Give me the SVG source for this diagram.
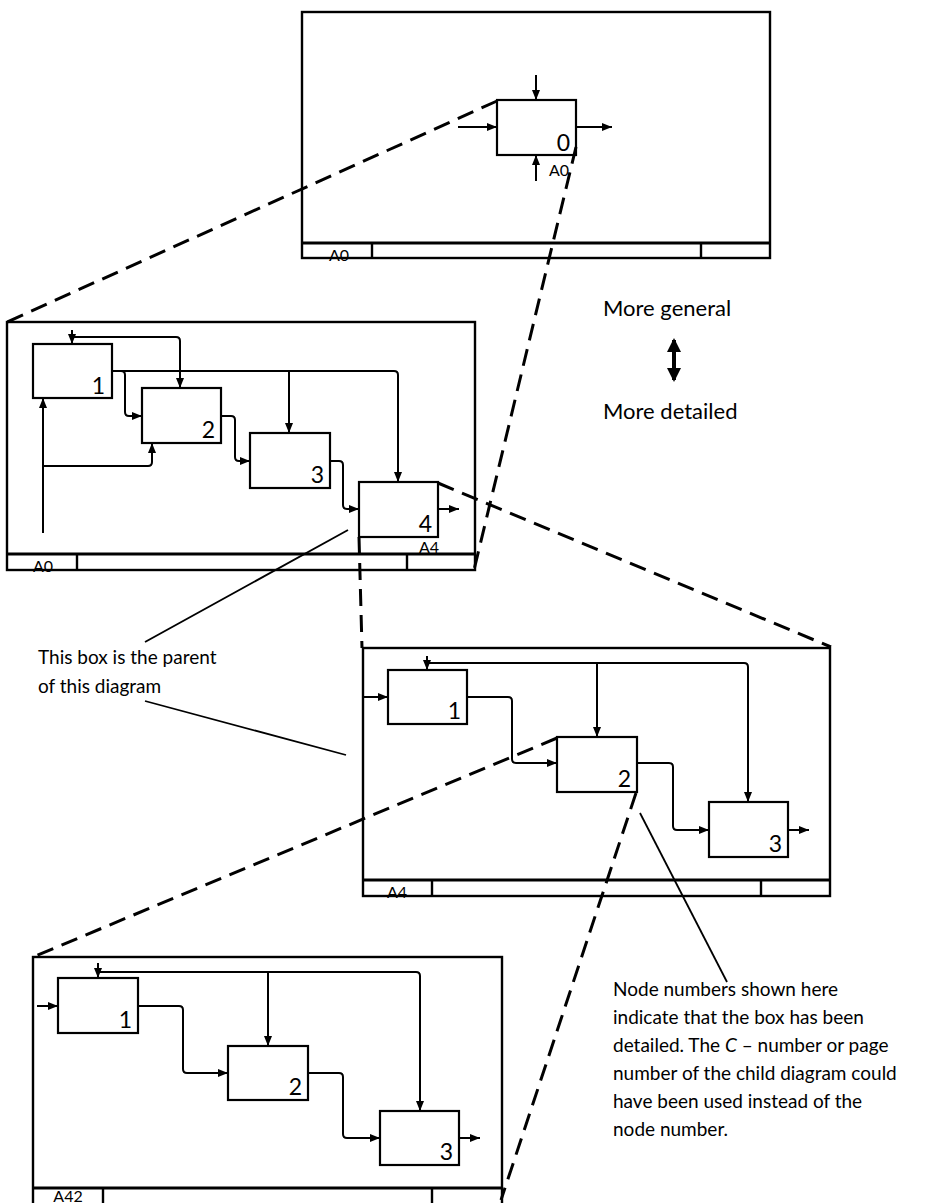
<svg xmlns="http://www.w3.org/2000/svg" width="925" height="1203" viewBox="0 0 925 1203">
<style>
.frame{fill:none;stroke:#000;stroke-width:2.4}
.bar{fill:none;stroke:#000;stroke-width:2.8}
.box{fill:#fff;stroke:#000;stroke-width:2.2}
.c{fill:none;stroke:#000;stroke-width:2;stroke-linejoin:round}
.dash{fill:none;stroke:#000;stroke-width:3;stroke-dasharray:17 9}
.note{fill:none;stroke:#000;stroke-width:1.8}
text{font-family:Lato,"Open Sans","Liberation Sans",sans-serif;fill:#000}
.num{font-size:23px;text-anchor:end}
.ref{font-size:16px}
.foot{font-size:16px;text-anchor:middle}
.lbl{font-size:19px}
.big{font-size:22px}
</style>
<defs>
<marker id="ah" viewBox="0 0 10 8" refX="10" refY="4" markerWidth="10" markerHeight="8" markerUnits="userSpaceOnUse" orient="auto"><path d="M0,0 L10,4 L0,8 z" fill="#000"/></marker>
<marker id="dh" viewBox="0 0 14 14" refX="12" refY="7" markerWidth="14" markerHeight="14" markerUnits="userSpaceOnUse" orient="auto-start-reverse"><path d="M0,0 L14,7 L0,14 z" fill="#000"/></marker>
</defs>

<g id="frame-top">
<rect class="frame" x="302" y="12" width="468" height="246"/>
<line class="bar" x1="302" y1="243" x2="770" y2="243"/>
<line class="frame" x1="372" y1="243" x2="372" y2="258"/>
<line class="frame" x1="701" y1="243" x2="701" y2="258"/>
<text class="foot" x="339" y="261">A0</text>
</g>
<g id="A0-box0">
<rect class="box" x="497" y="100" width="79" height="55"/>
<text class="num" x="570" y="151">0</text>
<text class="ref" x="569" y="176" text-anchor="end">A0</text>
</g>

<g id="frame-A0">
<rect class="frame" x="7" y="322" width="468" height="248"/>
<line class="bar" x1="7" y1="554" x2="475" y2="554"/>
<line class="frame" x1="77" y1="554" x2="77" y2="570"/>
<line class="frame" x1="407" y1="554" x2="407" y2="570"/>
<text class="foot" x="43" y="572">A0</text>
</g>
<g id="A0-box1"><rect class="box" x="33" y="344" width="79" height="54"/><text class="num" x="105" y="394">1</text></g>
<g id="A0-box2"><rect class="box" x="142" y="388" width="79" height="55"/><text class="num" x="215" y="438">2</text></g>
<g id="A0-box3"><rect class="box" x="250" y="433" width="80" height="55"/><text class="num" x="324" y="483">3</text></g>
<g id="A0-box4"><rect class="box" x="359" y="482" width="79" height="55"/><text class="num" x="432" y="532">4</text><text class="ref" x="439" y="553" text-anchor="end">A4</text></g>

<g id="frame-A4">
<rect class="frame" x="363" y="648" width="467" height="248"/>
<line class="bar" x1="363" y1="880" x2="830" y2="880"/>
<line class="frame" x1="432" y1="880" x2="432" y2="896"/>
<line class="frame" x1="761" y1="880" x2="761" y2="896"/>
<text class="foot" x="397" y="898">A4</text>
</g>
<g id="A4-box1"><rect class="box" x="388" y="670" width="79" height="54"/><text class="num" x="461" y="719">1</text></g>
<g id="A4-box2"><rect class="box" x="557" y="737" width="80" height="55"/><text class="num" x="631" y="787">2</text></g>
<g id="A4-box3"><rect class="box" x="709" y="802" width="79" height="55"/><text class="num" x="782" y="852">3</text></g>

<g id="frame-A42">
<rect class="frame" x="33" y="957" width="469" height="260"/>
<line class="bar" x1="33" y1="1188" x2="502" y2="1188"/>
<line class="frame" x1="103" y1="1188" x2="103" y2="1210"/>
<line class="frame" x1="432" y1="1188" x2="432" y2="1210"/>
<text class="foot" x="68" y="1202">A42</text>
</g>
<g id="A42-box1"><rect class="box" x="58" y="978" width="80" height="55"/><text class="num" x="132" y="1028">1</text></g>
<g id="A42-box2"><rect class="box" x="228" y="1046" width="80" height="54"/><text class="num" x="302" y="1095">2</text></g>
<g id="A42-box3"><rect class="box" x="380" y="1111" width="79" height="54"/><text class="num" x="453" y="1160">3</text></g>

<g id="connectors">
<path class="c" marker-end="url(#ah)" d="M536,75 V100"/>
<path class="c" marker-end="url(#ah)" d="M458,127 H497"/>
<path class="c" marker-end="url(#ah)" d="M576,127 H612"/>
<path class="c" marker-end="url(#ah)" d="M536,181 V155"/>

<path class="c" marker-end="url(#ah)" d="M72,330 V344"/>
<path class="c" marker-end="url(#ah)" d="M72,337 H176 Q180,337 180,341 V388"/>
<path class="c" marker-end="url(#ah)" d="M112,371 H394 Q398,371 398,375 V482"/>
<path class="c" marker-end="url(#ah)" d="M121,371 Q125,371 125,375 V412 Q125,416 129,416 H142"/>
<path class="c" marker-end="url(#ah)" d="M289,371 V433"/>
<path class="c" marker-end="url(#ah)" d="M221,416 H231 Q235,416 235,420 V457 Q235,461 239,461 H250"/>
<path class="c" marker-end="url(#ah)" d="M330,461 H339 Q343,461 343,465 V505 Q343,509 347,509 H359"/>
<path class="c" marker-end="url(#ah)" d="M438,509 H459"/>
<path class="c" marker-end="url(#ah)" d="M43,533 V398"/>
<path class="c" marker-end="url(#ah)" d="M43,466 H148 Q152,466 152,462 V443"/>

<path class="c" marker-end="url(#ah)" d="M427,656 V670"/>
<path class="c" marker-end="url(#ah)" d="M427,663 H744 Q748,663 748,667 V802"/>
<path class="c" marker-end="url(#ah)" d="M597,663 V737"/>
<path class="c" marker-end="url(#ah)" d="M363,697 H388"/>
<path class="c" marker-end="url(#ah)" d="M467,697 H508 Q512,697 512,701 V759 Q512,763 516,763 H557"/>
<path class="c" marker-end="url(#ah)" d="M637,763 H669 Q673,763 673,767 V826 Q673,830 677,830 H709"/>
<path class="c" marker-end="url(#ah)" d="M788,830 H809"/>

<path class="c" marker-end="url(#ah)" d="M98,963 V978"/>
<path class="c" marker-end="url(#ah)" d="M98,972 H416 Q420,972 420,976 V1111"/>
<path class="c" marker-end="url(#ah)" d="M268,972 V1046"/>
<path class="c" marker-end="url(#ah)" d="M37,1006 H58"/>
<path class="c" marker-end="url(#ah)" d="M138,1006 H179 Q183,1006 183,1010 V1069 Q183,1073 187,1073 H228"/>
<path class="c" marker-end="url(#ah)" d="M308,1073 H339 Q343,1073 343,1077 V1134 Q343,1138 347,1138 H380"/>
<path class="c" marker-end="url(#ah)" d="M459,1138 H480"/>

<path class="dash" d="M497,101 L7,322"/>
<path class="dash" d="M576,147 L474,570"/>
<path class="dash" d="M438,483 L831,647"/>
<path class="dash" d="M359,537 L362,648"/>
<path class="dash" d="M557,738 L33,957"/>
<path class="dash" d="M636,793 L501,1200"/>

<path class="note" d="M145,642 L348,530"/>
<path class="note" d="M145,701 L346,755"/>
<path class="note" d="M640,813 L727,982"/>

<line x1="674" y1="340" x2="674" y2="380" stroke="#000" stroke-width="4" marker-start="url(#dh)" marker-end="url(#dh)"/>
</g>

<g id="labels">
<text class="big" x="603" y="316">More general</text>
<text class="big" x="603" y="419">More detailed</text>
<text class="lbl" x="38" y="664">This box is the parent</text>
<text class="lbl" x="38" y="693">of this diagram</text>
<text class="lbl" x="613" y="996">Node numbers shown here</text>
<text class="lbl" x="613" y="1024">indicate that the box has been</text>
<text class="lbl" x="613" y="1052">detailed. The <tspan font-style="italic">C</tspan> – number or page</text>
<text class="lbl" x="613" y="1080">number of the child diagram could</text>
<text class="lbl" x="613" y="1108">have been used instead of the</text>
<text class="lbl" x="613" y="1136">node number.</text>
</g>
</svg>
